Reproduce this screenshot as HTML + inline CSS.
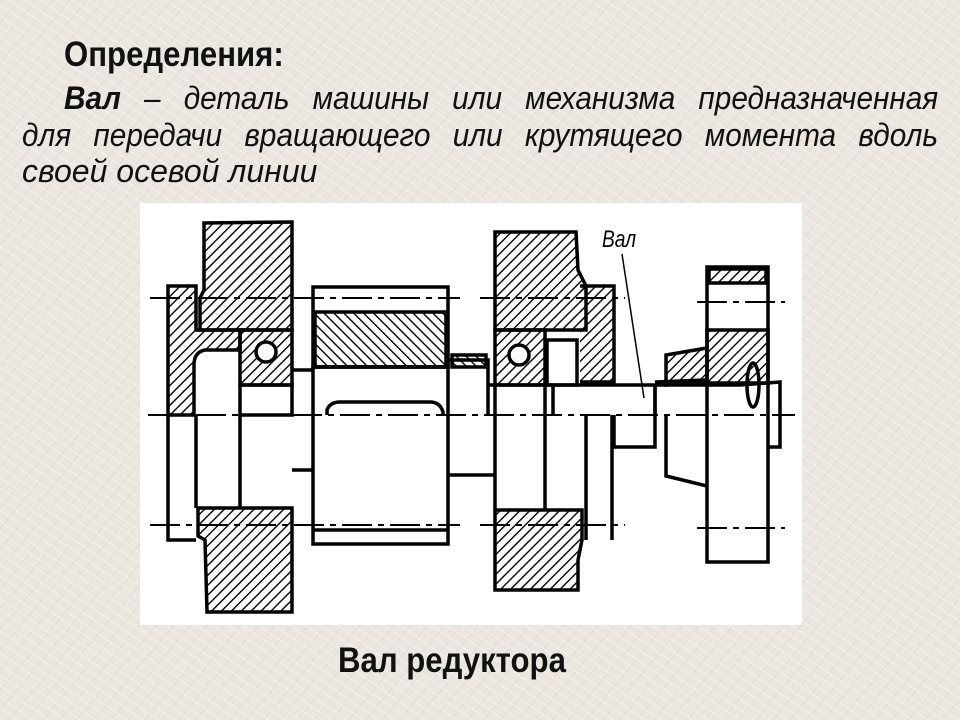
<!DOCTYPE html>
<html><head><meta charset="utf-8">
<style>
html,body{margin:0;padding:0}
body{width:960px;height:720px;overflow:hidden;position:relative;
background:#ebe6df;
background-image:
 repeating-linear-gradient(35deg,rgba(255,255,255,.25) 0 2px,transparent 2px 9px),
 repeating-linear-gradient(-50deg,rgba(150,140,130,.12) 0 1px,transparent 1px 13px);
font-family:"Liberation Sans",sans-serif;color:#111}
.t{position:absolute;font-size:32px;line-height:36px;white-space:nowrap;transform-origin:0 0;transform:scaleX(0.93)}
.j{text-align:justify;text-align-last:justify;white-space:normal}
i{font-style:italic}
</style></head><body>
<div class="t" style="left:64px;top:37px;font-weight:bold;font-size:35px;transform:scaleX(0.89)">Определения:</div>
<div class="t j" style="left:64px;top:80px;width:940px"><b><i>Вал</i></b> <i>– деталь машины или механизма предназначенная</i></div>
<div class="t j" style="left:22px;top:117px;width:985px"><i>для передачи вращающего или крутящего момента вдоль</i></div>
<div class="t" style="left:22px;top:153px;transform:scaleX(1)"><i>своей осевой линии</i></div>
<div class="t" style="left:338px;top:643px;font-weight:bold;font-size:35px;transform:scaleX(0.89)">Вал редуктора</div>

<svg style="position:absolute;left:0;top:0" width="960" height="720" viewBox="0 0 960 720">
<defs>
<pattern id="h1" width="7" height="7" patternUnits="userSpaceOnUse" patternTransform="rotate(45)"><line x1="0" y1="0" x2="0" y2="7" stroke="#000" stroke-width="2.8"/></pattern>
<pattern id="h2" width="7" height="7" patternUnits="userSpaceOnUse" patternTransform="rotate(-45)"><line x1="0" y1="0" x2="0" y2="7" stroke="#000" stroke-width="2.8"/></pattern>
</defs>
<rect x="140" y="203" width="662" height="422" fill="#fff"/>
<g stroke="#000" stroke-width="3.5" fill="none">
<path d="M204 223 L292 222 L292 330 L200 330 L200 298 L204 290 Z" fill="url(#h1)"/>
<path d="M198 508 L292 508 L292 612 L207 612 L205 540 L198 536 Z" fill="url(#h1)"/>
<path d="M168 286 L196 286 L196 330 L240 330 L240 350 L205 350 Q194 352 194 365 L194 415 L168 415 Z" fill="url(#h1)"/>
<path d="M168 415 L168 540 L196 540"/>
<line x1="196" y1="415" x2="196" y2="508"/>
<line x1="240" y1="415" x2="240" y2="508"/>
<rect x="240" y="330" width="52" height="55" fill="url(#h1)"/>
<circle cx="266" cy="352" r="10" fill="#fff"/>
<rect x="240" y="385" width="52" height="30"/>
<rect x="313" y="287" width="135" height="80"/>
<rect x="315" y="312" width="131" height="55" fill="url(#h2)"/>
<rect x="313" y="367" width="135" height="177"/>
<path d="M327 415 L327 410 Q330 402 340 402 L430 402 Q440 402 443 412 L443 415"/>
<path d="M448 367 L448 360 L488 360 L488 385" fill="none"/>
<rect x="452" y="355" width="34" height="12" fill="url(#h2)"/>
<line x1="292" y1="370" x2="313" y2="370"/>
<line x1="292" y1="470" x2="313" y2="470"/>
<line x1="448" y1="475" x2="495" y2="475"/>
<line x1="313" y1="530" x2="448" y2="530"/>
<path d="M495 232 L576 232 L578 270 L586 286 L586 330 L495 330 Z" fill="url(#h1)"/>
<path d="M495 510 L582 510 L582 540 L578 560 L578 590 L495 590 Z" fill="url(#h1)"/>
<path d="M580 286 L614 286 L614 382 L580 382" fill="url(#h1)"/>
<rect x="495" y="330" width="50" height="55" fill="url(#h1)"/>
<circle cx="519" cy="355" r="10" fill="#fff"/>
<rect x="547" y="340" width="30" height="45" fill="#fff"/>
<line x1="495" y1="385" x2="495" y2="510"/>
<line x1="545" y1="385" x2="545" y2="510"/>
<line x1="586" y1="415" x2="586" y2="540"/>
<line x1="612" y1="415" x2="612" y2="540"/>
<path d="M488 385 L655 385 L655 415 M553 385 L553 415 M488 385 L488 415"/>
<path d="M614 415 L614 447 L655 447 L655 385"/>
<line x1="655" y1="382" x2="705" y2="380"/>
<rect x="707" y="267" width="61" height="295"/>
<rect x="709" y="269" width="57" height="14" fill="url(#h1)"/>
<path d="M707 330 L768 330 L768 383 L707 383 Z" fill="url(#h1)"/>
<path d="M666 355 L707 348 L707 383 L666 385 Z" fill="url(#h1)"/>
<path d="M666 415 L666 476 L707 486"/>
<path d="M655 385 L740 385 L780 382 L780 447 L768 447"/>
<ellipse cx="753" cy="385" rx="6" ry="22"/>
</g>
<g stroke="#000" stroke-width="2" stroke-dasharray="30,6,6,6">
<line x1="148" y1="415" x2="795" y2="415"/>
<line x1="150" y1="298" x2="460" y2="298"/>
<line x1="150" y1="525" x2="460" y2="525"/>
<line x1="480" y1="298" x2="625" y2="298"/>
<line x1="480" y1="525" x2="625" y2="525"/>
<line x1="697" y1="302" x2="785" y2="302"/>
<line x1="697" y1="528" x2="785" y2="528"/>
</g>
<line x1="622" y1="254" x2="644" y2="398" stroke="#000" stroke-width="1.5"/>
<text x="602" y="247" font-family="Liberation Sans,sans-serif" font-style="italic" font-size="24" transform="translate(602 0) scale(0.8 1) translate(-602 0)">Вал</text>
</svg>
</body></html>
